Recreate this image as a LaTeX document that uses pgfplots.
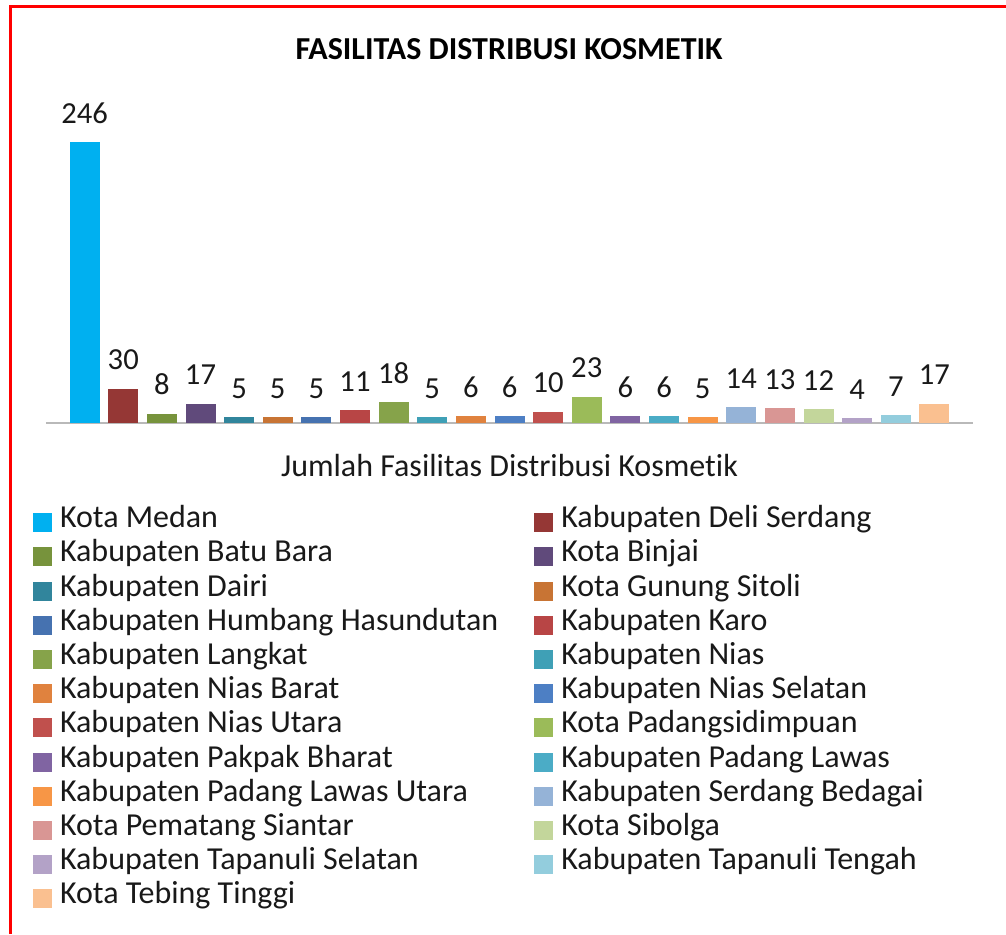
\documentclass[border=0pt]{standalone}
\usepackage{pgfplots}
\pgfplotsset{compat=1.18}
\usepackage{fontspec}
\setmainfont{Carlito}[Ligatures=NoCommon]
\definecolor{c1}{HTML}{00B0F0}
\definecolor{c2}{HTML}{953735}
\definecolor{c3}{HTML}{77933C}
\definecolor{c4}{HTML}{604A7B}
\definecolor{c5}{HTML}{31859C}
\definecolor{c6}{HTML}{C87434}
\definecolor{c7}{HTML}{4672B0}
\definecolor{c8}{HTML}{B84545}
\definecolor{c9}{HTML}{86A34A}
\definecolor{c10}{HTML}{3FA0B6}
\definecolor{c11}{HTML}{E0823E}
\definecolor{c12}{HTML}{4D7FC4}
\definecolor{c13}{HTML}{C0504D}
\definecolor{c14}{HTML}{9BBB59}
\definecolor{c15}{HTML}{8064A2}
\definecolor{c16}{HTML}{4BACC6}
\definecolor{c17}{HTML}{F79646}
\definecolor{c18}{HTML}{95B3D7}
\definecolor{c19}{HTML}{D99694}
\definecolor{c20}{HTML}{C3D69B}
\definecolor{c21}{HTML}{B3A2C7}
\definecolor{c22}{HTML}{93CDDD}
\definecolor{c23}{HTML}{FAC090}
\begin{document}
\begin{tikzpicture}
\begin{axis}[
  at={(23pt,255.5pt)}, anchor=south west,
  scale only axis, width=463.5pt, height=140.5pt,
  xmin=-1, xmax=23, ymin=0, ymax=246,
  clip=false,
  ybar, bar width=15pt, bar shift=0pt,
  axis x line*=bottom, axis y line=none,
  x axis line style={draw=gray!55, line width=1.2pt, -},
  xtick=\empty, ytick=\empty,
  /pgf/number format/assume math mode=true,
  xlabel={Jumlah Fasilitas Distribusi Kosmetik},
  xlabel style={at={(axis description cs:0.5,0)}, anchor=base, yshift=-26.5pt, inner sep=0pt, font=\fontsize{16}{19}\selectfont, text=black!90},
  nodes near coords,
  every node near coord/.append style={anchor=base, inner sep=0pt, yshift=9.5pt, font=\fontsize{15.3}{18}\selectfont, text=black!90},
  every axis plot/.append style={draw=none},
  legend image code/.code={\fill[#1] (0pt,-4.75pt) rectangle (9.5pt,4.75pt);},
  legend style={at={(axis description cs:-0.014,-0.294)}, anchor=north west, draw=none, fill=none,
    legend columns=2, inner sep=0pt, outer sep=0pt, font=\fontsize{16}{19}\selectfont, text=black!90,
    row sep=0pt,
    nodes={inner sep=0pt, text height=11pt, text depth=6.1pt},
    /tikz/every odd column/.append style={column sep=4pt},
    /tikz/every even column/.append style={column sep=18pt}},
  legend cell align=left,
]
\addplot[fill=c1] coordinates {(0,246)}; \addlegendentry{Kota Medan}
\addplot[fill=c2] coordinates {(1,30)}; \addlegendentry{Kabupaten Deli Serdang}
\addplot[fill=c3] coordinates {(2,8)}; \addlegendentry{Kabupaten Batu Bara}
\addplot[fill=c4] coordinates {(3,17)}; \addlegendentry{Kota Binjai}
\addplot[fill=c5] coordinates {(4,5)}; \addlegendentry{Kabupaten Dairi}
\addplot[fill=c6] coordinates {(5,5)}; \addlegendentry{Kota Gunung Sitoli}
\addplot[fill=c7] coordinates {(6,5)}; \addlegendentry{Kabupaten Humbang Hasundutan}
\addplot[fill=c8] coordinates {(7,11)}; \addlegendentry{Kabupaten Karo}
\addplot[fill=c9] coordinates {(8,18)}; \addlegendentry{Kabupaten Langkat}
\addplot[fill=c10] coordinates {(9,5)}; \addlegendentry{Kabupaten Nias}
\addplot[fill=c11] coordinates {(10,6)}; \addlegendentry{Kabupaten Nias Barat}
\addplot[fill=c12] coordinates {(11,6)}; \addlegendentry{Kabupaten Nias Selatan}
\addplot[fill=c13] coordinates {(12,10)}; \addlegendentry{Kabupaten Nias Utara}
\addplot[fill=c14] coordinates {(13,23)}; \addlegendentry{Kota Padangsidimpuan}
\addplot[fill=c15] coordinates {(14,6)}; \addlegendentry{Kabupaten Pakpak Bharat}
\addplot[fill=c16] coordinates {(15,6)}; \addlegendentry{Kabupaten Padang Lawas}
\addplot[fill=c17] coordinates {(16,5)}; \addlegendentry{Kabupaten Padang Lawas Utara}
\addplot[fill=c18] coordinates {(17,14)}; \addlegendentry{Kabupaten Serdang Bedagai}
\addplot[fill=c19] coordinates {(18,13)}; \addlegendentry{Kota Pematang Siantar}
\addplot[fill=c20] coordinates {(19,12)}; \addlegendentry{Kota Sibolga}
\addplot[fill=c21] coordinates {(20,4)}; \addlegendentry{Kabupaten Tapanuli Selatan}
\addplot[fill=c22] coordinates {(21,7)}; \addlegendentry{Kabupaten Tapanuli Tengah}
\addplot[fill=c23] coordinates {(22,17)}; \addlegendentry{Kota Tebing Tinggi}
\end{axis}
\node[font=\bfseries\fontsize{16}{19}\selectfont, inner sep=0pt] at (254.5pt,442.5pt) {FASILITAS DISTRIBUSI KOSMETIK};
\draw[red, line width=1.5pt] (5pt,0pt) -- (5pt,463.5pt) -- (503pt,463.5pt);
\pgfresetboundingbox
\path[use as bounding box] (0pt,0pt) rectangle (503pt,467pt);
\end{tikzpicture}
\end{document}
